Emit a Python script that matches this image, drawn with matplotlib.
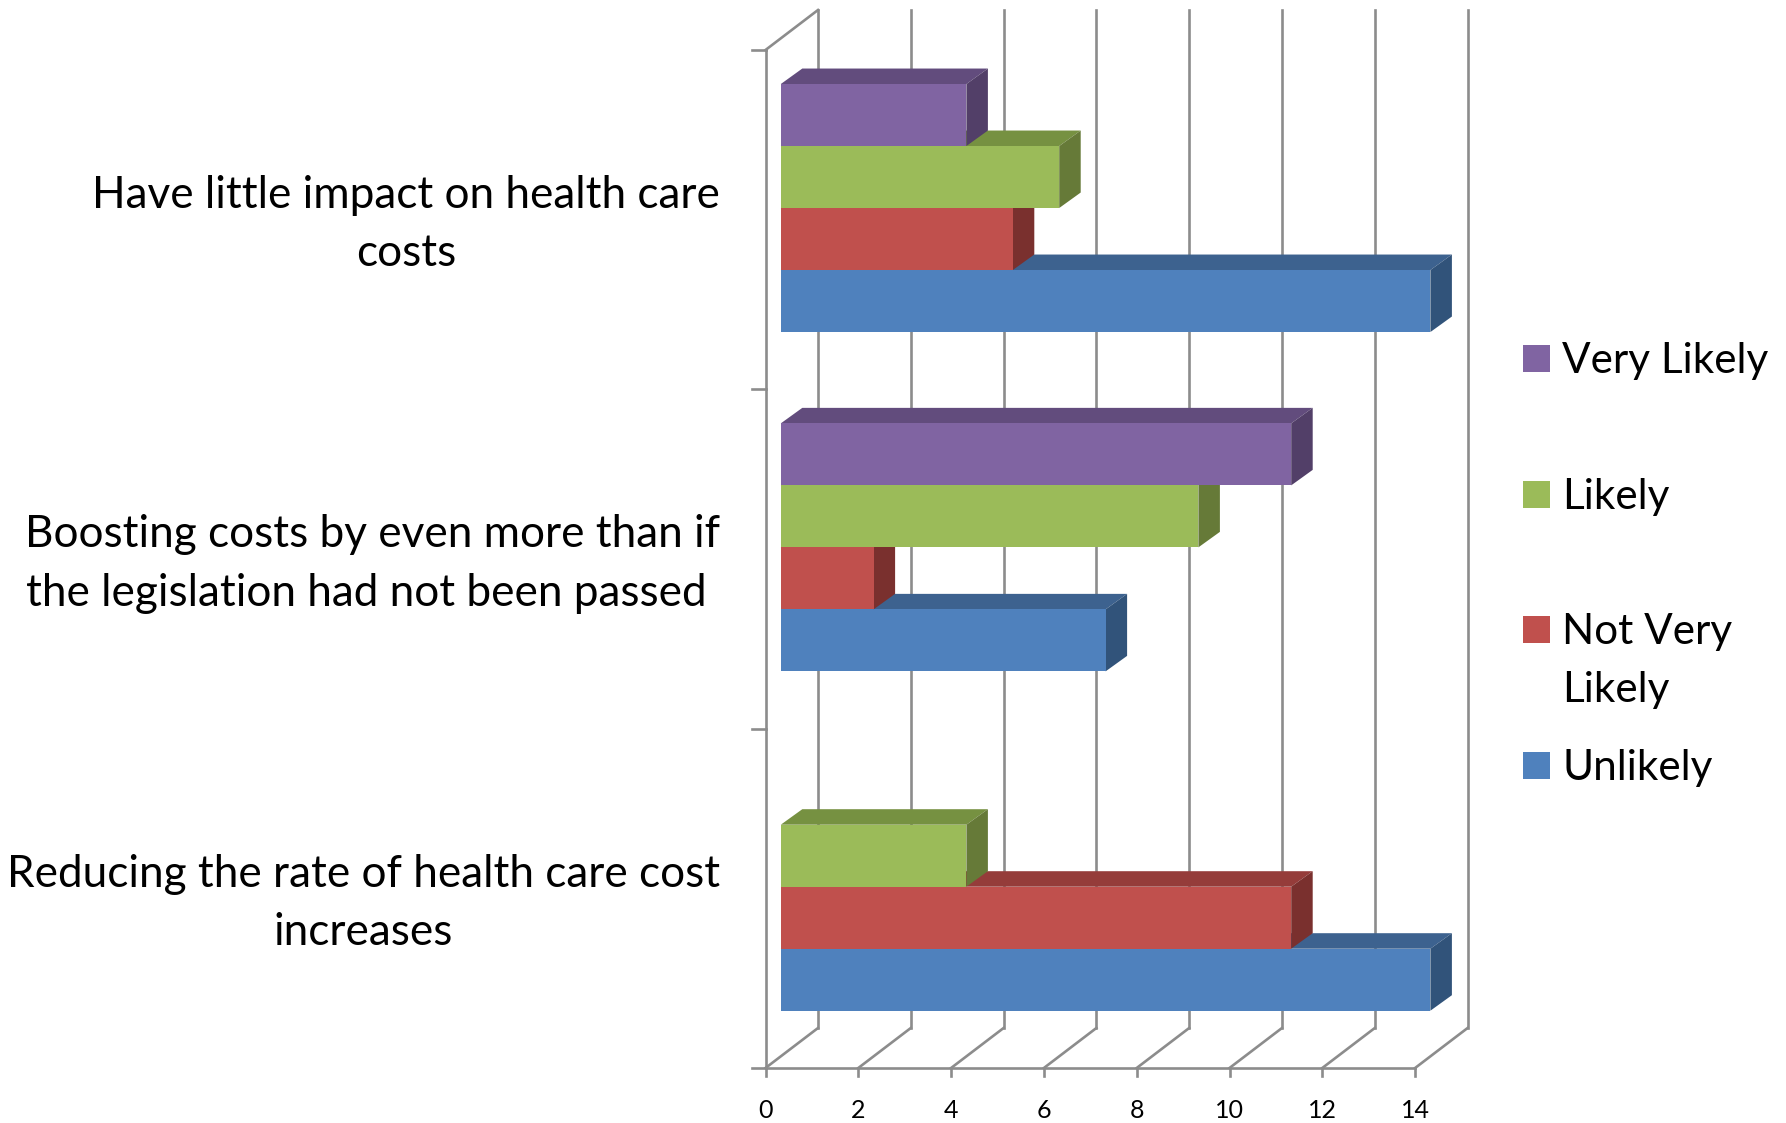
import matplotlib
matplotlib.use("Agg")
import matplotlib.pyplot as plt
from matplotlib.patches import Polygon, Rectangle

plt.rcParams["font.family"] = ["Lato", "DejaVu Sans"]

# bottom to top, the order of the categories on the axis
categories = [
    "Reducing the rate of health care cost\nincreases",
    "Boosting costs by even more than if\nthe legislation had not been passed ",
    "Have little impact on health care\ncosts",
]
unlikely = [14, 7, 14]
not_very_likely = [11, 2, 5]
likely = [4, 9, 6]
very_likely = [0, 11, 4]
x_ticks = [0, 2, 4, 6, 8, 10, 12, 14]

WIDTH, HEIGHT = 1786, 1123
X0, PX_PER_VALUE = 765.5, 46.4
Y0, PX_PER_CAT = 1068.0, 339.3

GREY = "#8c8c8c"
LINE = 1.9

# front, top, side
series = [
    (unlikely, "#4f81bd", "#3d628f", "#31537a"),
    (not_very_likely, "#c0504d", "#953c3a", "#7a302e"),
    (likely, "#9bbb59", "#769141", "#667a38"),
    (very_likely, "#8064a2", "#624c7d", "#523f68"),
]

WALL_DX = 52.5 / PX_PER_VALUE
WALL_DY = 40.0 / PX_PER_CAT
BAR_START = 15.3 / PX_PER_VALUE
BAR_DX = 21.5 / PX_PER_VALUE
BAR_DY = 15.5 / PX_PER_CAT
BAR_BASE = 57.3 / PX_PER_CAT
BAR_H = 62.0 / PX_PER_CAT
TOP = (Y0 - 50.0) / PX_PER_CAT


def draw_frame(ax):
    for value in x_ticks:
        ax.plot([value, value + WALL_DX], [0, WALL_DY], color=GREY, lw=LINE, zorder=1)
        ax.plot([value + WALL_DX, value + WALL_DX], [WALL_DY, TOP + WALL_DY],
                color=GREY, lw=LINE, zorder=1)
        ax.plot([value, value], [0, -8 / PX_PER_CAT], color=GREY, lw=LINE, zorder=1)
        ax.text(value, -42 / PX_PER_CAT, str(value), ha="center", va="center", fontsize=18)

    ax.plot([0, 0], [0, TOP], color=GREY, lw=LINE, zorder=1)
    ax.plot([0, WALL_DX], [TOP, TOP + WALL_DY], color=GREY, lw=LINE, zorder=1)
    ax.plot([0, x_ticks[-1]], [0, 0], color=GREY, lw=LINE, zorder=1)
    for pos in range(len(categories) + 1):
        ax.plot([-14 / PX_PER_VALUE, 0], [pos * TOP / 3] * 2, color=GREY, lw=LINE, zorder=1)


def draw_bars(ax):
    for jj, (values, front, top, side) in enumerate(series):
        for ii, value in enumerate(values):
            if value == 0:
                continue
            y0 = ii * TOP / 3 + BAR_BASE + jj * BAR_H
            y1 = y0 + BAR_H
            x0 = BAR_START
            x1 = x0 + value
            zz = 2 + jj
            ax.add_patch(Polygon(
                [(x0, y1), (x1, y1), (x1 + BAR_DX, y1 + BAR_DY), (x0 + BAR_DX, y1 + BAR_DY)],
                facecolor=top, edgecolor="none", zorder=zz))
            ax.add_patch(Polygon(
                [(x1, y0), (x1 + BAR_DX, y0 + BAR_DY), (x1 + BAR_DX, y1 + BAR_DY), (x1, y1)],
                facecolor=side, edgecolor="none", zorder=zz))
            ax.barh(y0, value, height=BAR_H, left=x0, align="edge", color=front,
                    edgecolor="none", zorder=zz + 0.5)


def draw_labels(ax):
    for ii, name in enumerate(categories):
        ax.text(-45.5 / PX_PER_VALUE, (ii + 0.5) * TOP / 3 - 5 / PX_PER_CAT, name,
                ha="right", va="center", multialignment="center",
                fontsize=31.8, linespacing=1.52)


def draw_legend(fig):
    rows = [
        ("Very Likely", series[3][1], 345),
        ("Likely", series[2][1], 481),
        ("Not Very\nLikely", series[1][1], 616),
        ("Unlikely", series[0][1], 752),
    ]
    for name, color, top_px in rows:
        fig.add_artist(Rectangle((1523 / WIDTH, 1 - (top_px + 27) / HEIGHT),
                                 27 / WIDTH, 27 / HEIGHT, facecolor=color,
                                 edgecolor="none", transform=fig.transFigure))
        fig.text(1562 / WIDTH, 1 - (top_px - 3) / HEIGHT, name, ha="left", va="top",
                 fontsize=30.4, linespacing=1.64)


def main():
    fig = plt.figure(figsize=(WIDTH / 100, HEIGHT / 100), dpi=100)
    ax = fig.add_axes([0, 0, 1, 1])
    ax.set_xlim(-X0 / PX_PER_VALUE, (WIDTH - X0) / PX_PER_VALUE)
    ax.set_ylim((Y0 - HEIGHT) / PX_PER_CAT, Y0 / PX_PER_CAT)
    ax.axis("off")

    draw_frame(ax)
    draw_bars(ax)
    draw_labels(ax)
    draw_legend(fig)

    fig.savefig("out.png", dpi=100)


if __name__ == "__main__":
    main()
